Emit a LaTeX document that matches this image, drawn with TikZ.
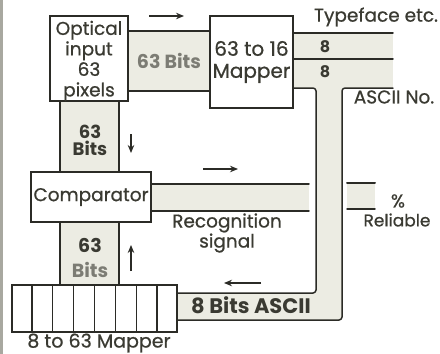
\documentclass[tikz,border=0pt]{standalone}
\usepackage{fontspec}
\setmainfont{Poppins}[UprightFeatures={FakeBold=0.7}]
\usetikzlibrary{arrows.meta,calc}
\definecolor{ink}{HTML}{2B2B26}
\definecolor{txt}{HTML}{3A3A32}
\definecolor{chanfill}{HTML}{ECECE3}
\definecolor{fadetxt}{HTML}{7C7C74}
\definecolor{edge}{HTML}{A8A8A0}
\tikzset{
  box/.style={draw=ink, line width=1.8pt, fill=white, inner sep=0pt, text=txt, align=center, font=\fontsize{18.5}{19}\selectfont},
  chan/.style={fill=chanfill, draw=none},
  cline/.style={draw=ink, line width=1.5pt, line cap=round, line join=round},
  lbl/.style={text=txt, inner sep=0pt, font=\fontsize{18.5}{19}\selectfont},
  blbl/.style={text=txt, inner sep=0pt, font=\bfseries\fontsize{19}{18}\selectfont},
  flbl/.style={text=fadetxt, inner sep=0pt, font=\bfseries\fontsize{19}{18}\selectfont},
  flow/.style={draw=ink, line width=1.6pt, -{Stealth[length=8pt,width=6.5pt]}},
}
\begin{document}
\begin{tikzpicture}[x=1pt,y=-1pt]
\useasboundingbox (0,0) rectangle (440,354);
\fill[white] (0,0) rectangle (440,354);
\draw[edge, line width=3pt] (1.5,0) -- (1.5,354);

% channel fills
\fill[chan] (128,31) rectangle (210,91);
\fill[chan] (60,101) rectangle (119,172);
\fill[chan] (60,222) rectangle (119,285);
\fill[chan] (151,184) rectangle (309,211);
\fill[chan] (293,33) rectangle (393,88);
\fill[chan] (293,80) rectangle (342,88);
\fill[chan] (316,88) rectangle (342,320);
\fill[chan] (177,293) rectangle (342,320);
\fill[chan] (347,183) rectangle (375,209);

% boxes
\node[box, minimum width=78pt, minimum height=85pt] (opt) at (89,58.5) {};
\node[lbl, align=center, font=\fontsize{18.5}{20.5}\selectfont] (optlbl) at (89,61) {Optical\\input\\63\\pixels};
\node[box, minimum width=83pt, minimum height=92pt, font=\fontsize{20}{22}\selectfont] (mapA) at (251.5,62) {63 to 16\\Mapper};
\node[box, minimum width=120pt, minimum height=50pt] (comp) at (91,197) {Comparator};
\node[box, minimum width=165pt, minimum height=47pt] (mapB) at (94.5,308.5) {};
\foreach \i in {1,...,7} {
  \draw[ink, line width=1.2pt] ($(mapB.south west)!\i/8!(mapB.south east)$) -- ($(mapB.north west)!\i/8!(mapB.north east)$);
}

% channel lines
\draw[cline] (opt.east |- 0,31) -- (mapA.west |- 0,31);
\draw[cline] (opt.east |- 0,91) -- (mapA.west |- 0,91);
\draw[cline] (60,0 |- opt.south) -- (60,0 |- comp.north);
\draw[cline] (119,0 |- opt.south) -- (119,0 |- comp.north);
\draw[cline] (60,0 |- comp.south) -- (60,0 |- mapB.north);
\draw[cline] (119,0 |- comp.south) -- (119,0 |- mapB.north);
\draw[cline] (comp.east |- 0,184) -- (309,184);
\draw[cline] (comp.east |- 0,211) -- (309,211);
\draw[cline] (mapA.east |- 0,33) -- (393,33);
\draw[cline] (mapA.east |- 0,59) -- (393,59);
\draw[cline, rounded corners=3pt] (mapA.east |- 0,88) -- (316,88) -- (316,293) -- (mapB.east |- 0,293);
\draw[cline, rounded corners=3pt] (393,88) -- (342,88) -- (342,320) -- (mapB.east |- 0,320);
\draw[cline, line width=2pt] (347,183) -- (375,183);
\draw[cline] (347,209) -- (375,209);

% flow arrows
\coordinate (a1s) at (149,16); \coordinate (a1e) at (184,16);
\coordinate (a2s) at (131,134); \coordinate (a2e) at (131,153);
\coordinate (a3s) at (131,271); \coordinate (a3e) at (131,245);
\coordinate (a4s) at (203,169); \coordinate (a4e) at (238,169);
\coordinate (a5s) at (261,283); \coordinate (a5e) at (224,283);
\draw[flow] (a1s) -- (a1e);
\draw[flow] (a2s) -- (a2e);
\draw[flow] (a3s) -- (a3e);
\draw[flow] (a4s) -- (a4e);
\draw[flow] (a5s) -- (a5e);

% labels
\node[flbl] (b1) at (169,61) {63 Bits};
\node[blbl, align=center, font=\bfseries\fontsize{18}{17}\selectfont] (b2) at (90,140) {63\\Bits};
\node[blbl] (b3) at (90,245) {63};
\node[flbl] (b4) at (90,270) {Bits};
\node[lbl] (t1) at (376,17) {Typeface etc.};
\node[blbl, font=\bfseries\fontsize{16}{16}\selectfont] (e1) at (325,47) {8};
\node[blbl, font=\bfseries\fontsize{16}{16}\selectfont] (e2) at (325,72) {8};
\node[lbl] (t2) at (394,97) {ASCII No.};
\node[lbl, align=center, font=\fontsize{18.5}{18}\selectfont] (t3) at (227,233) {Recognition\\signal};
\node[lbl] (t4) at (398,201) {\%};
\node[lbl, font=\fontsize{17}{17}\selectfont] (t5) at (397,220) {Reliable};
\node[blbl, font=\bfseries\fontsize{21}{21}\selectfont] (t6) at (251,305) {8 Bits ASCII};
\node[lbl, font=\fontsize{19}{19}\selectfont] (t7) at (99,343) {8 to 63 Mapper};
\end{tikzpicture}
\end{document}
